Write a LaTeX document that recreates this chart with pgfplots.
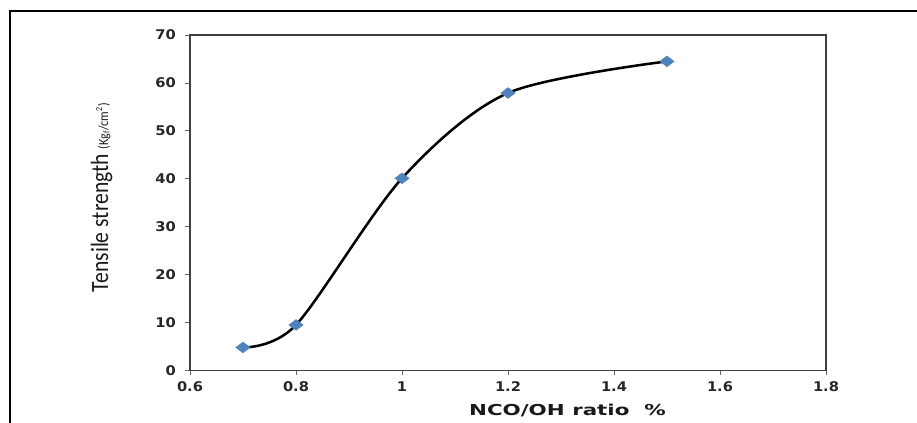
\documentclass[border=0pt]{standalone}
\usepackage{pgfplots}
\pgfplotsset{compat=1.18}
\usepackage{fontspec}
\setmainfont{DejaVu Sans}
\newfontfamily\carlito{Carlito}
\definecolor{exblue}{RGB}{79,129,189}
\begin{document}
\begin{tikzpicture}
% pixel (px,py) -> (0.75px pt, 0.75(423-py) pt)
\path[use as bounding box] (0,0) rectangle (687.75pt,317.25pt);
\draw[line width=2.2pt, black] (7.5pt,-2pt) -- (7.5pt,309pt) -- (690pt,309pt);
\begin{axis}[
  at={(142.5pt,39.4pt)}, anchor=south west,
  scale only axis, width=477pt, height=251.6pt,
  xmin=0.6, xmax=1.8, ymin=0, ymax=70,
  xtick={0.6,0.8,1,1.2,1.4,1.6,1.8},
  xticklabels={0.6,0.8,1,1.2,1.4,1.6,1.8},
  ytick={0,10,20,30,40,50,60,70},
  tick align=outside, xtick pos=bottom, ytick pos=left,
  major tick length=3.5pt,
  tick style={black!60, line width=0.6pt},
  axis line style={black!75, line width=1.3pt},
  /pgf/number format/assume math mode=true,
  ticklabel style={font=\fontsize{10}{12}\selectfont\bfseries, text=black!85, xscale=1.1},
  xticklabel style={yshift=-1.5pt},
  yticklabel style={xshift=-3pt},
  clip=false,
]
\addplot[black, line width=1.9pt, smooth, tension=0.5,
  mark=diamond*, mark size=5.4pt,
  mark options={rotate=90, fill=exblue, draw=exblue, line width=0.3pt}]
coordinates {(0.7,4.8) (0.8,9.5) (1.0,40.1) (1.2,57.9) (1.5,64.5)};
\end{axis}
\node[anchor=base, font=\fontsize{11.3}{13}\selectfont\bfseries, text=black!90, xscale=1.42] at (425.6pt,5.3pt) {NCO/OH ratio\ \ \%};
\node[rotate=90, anchor=base, font=\carlito\fontsize{16.2}{18}\selectfont, text=black!90] at (81pt,169pt) {\scalebox{1}[1.15]{Tensile strength {\fontsize{9}{10}\selectfont (Kg\textsubscript{f}/cm\textsuperscript{2})}}};
\end{tikzpicture}
\end{document}
